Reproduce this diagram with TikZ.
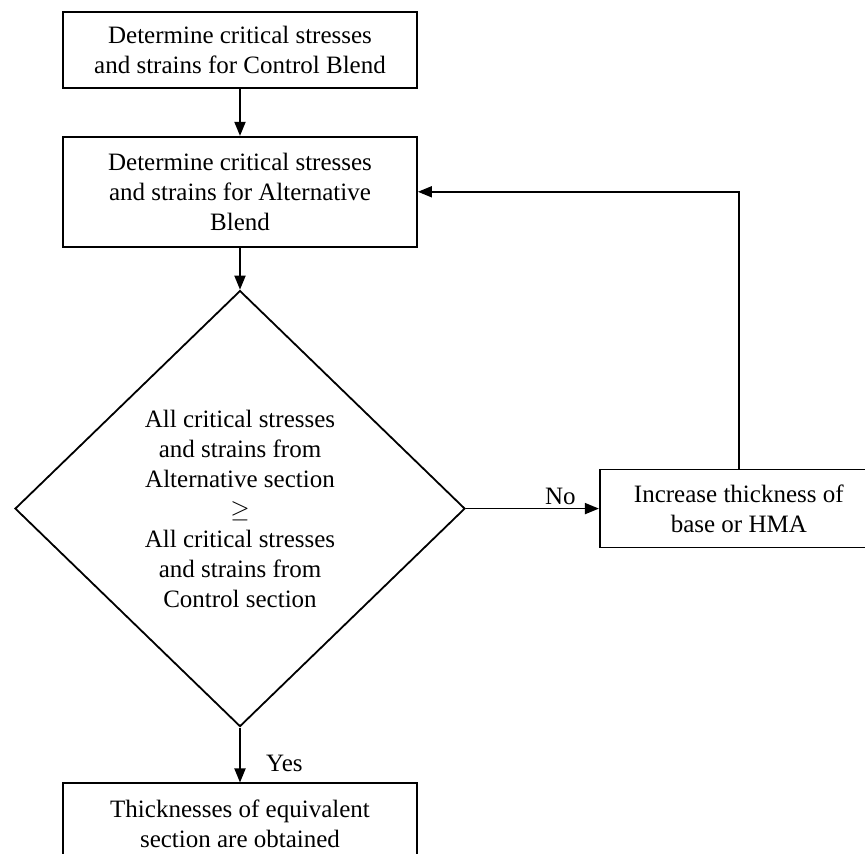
\documentclass[tikz,border=0pt]{standalone}
\usepackage{amsmath,amssymb}
\usepackage{fontspec}
\setmainfont{Liberation Serif}
\usetikzlibrary{arrows.meta,positioning,shapes.geometric}

\begin{document}
\begin{tikzpicture}[
      x=1pt, y=1pt,
      font=\fontsize{25}{30}\selectfont,
      block/.style={
          rectangle,
          draw,
          line width=1.8pt,
          align=center,
          minimum width=354pt,
          inner sep=0pt
        },
      decision/.style={
          diamond,
          draw,
          line width=1.8pt,
          align=center,
          minimum width=450pt,
          minimum height=436pt,
          inner sep=0pt
        },
      arrow/.style={-{Triangle[length=14pt,width=11pt]}, line width=1.8pt}
    ]
    \useasboundingbox (0,0) rectangle (865,854);

    \node[block, minimum height=76pt] (control) at (240,804) {Determine critical stresses\\
      and strains for Control Blend};

    \node[block, minimum height=110pt, below=47pt of control] (alternative) {Determine critical stresses\\
      and strains for Alternative\\
      Blend};
    \draw[arrow] (control) -- (alternative);

    \node[decision, below=42pt of alternative] (check) {All critical stresses\\
      and strains from\\
      Alternative section\\
      $\geq$\\
      All critical stresses\\
      and strains from\\
      Control section};
    \draw[arrow] (alternative) -- (check);

    \node[block, minimum width=278pt, minimum height=78pt, right=133pt of check] (increase) {Increase thickness of\\
      base or HMA};
    \draw[arrow] (check) -- node[above, pos=0.71] {No} (increase);
    \draw[arrow] (increase.north) |- (alternative.east);

    \node[block, minimum height=80pt, below=55pt of check] (result) {Thicknesses of equivalent\\
      section are obtained};
    \draw[arrow] (check) -- node[right=22pt, pos=0.65] {Yes} (result);
  \end{tikzpicture}
\end{document}
